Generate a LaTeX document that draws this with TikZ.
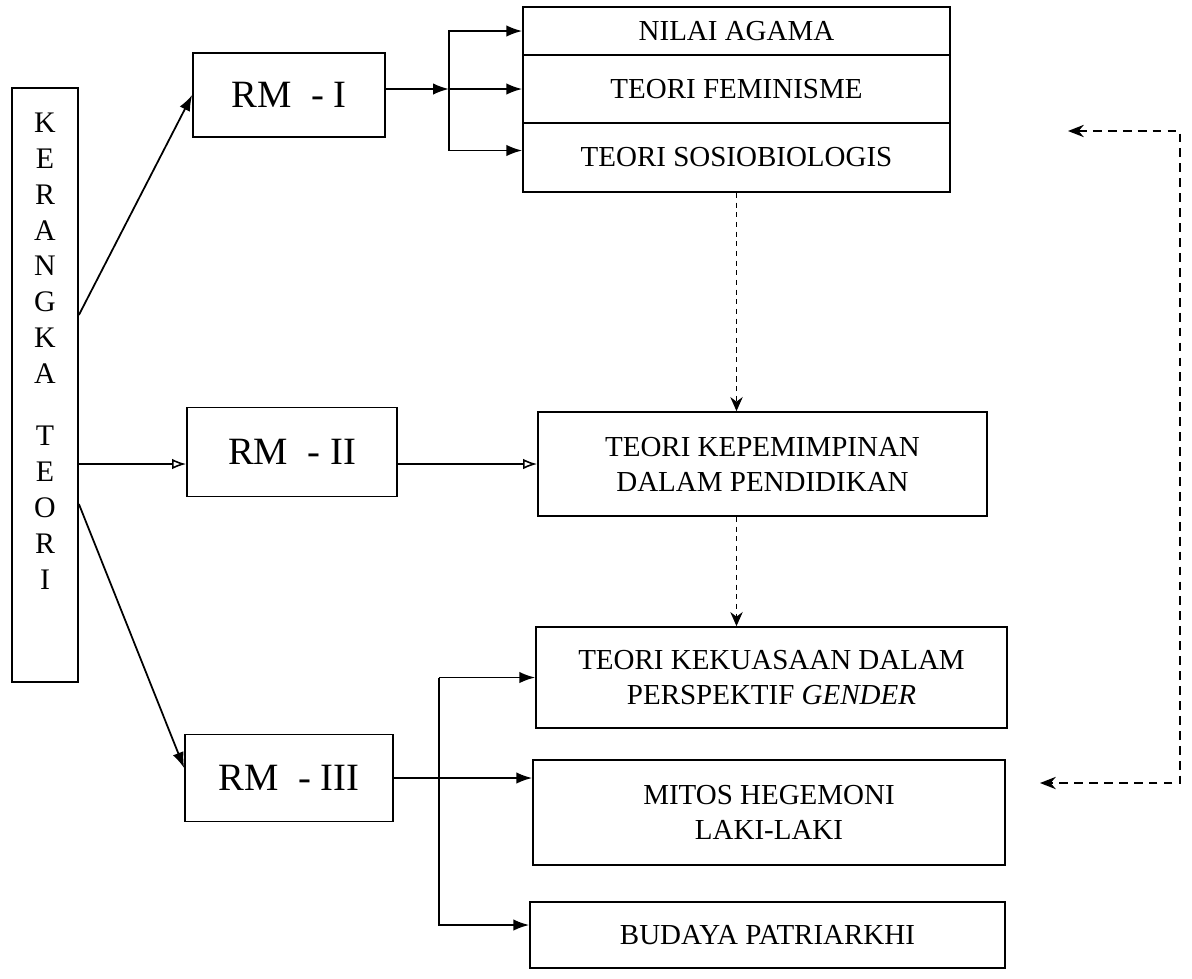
\documentclass[tikz,border=0pt]{standalone}
\usepackage{fontspec}
\setmainfont{Liberation Serif}
\usetikzlibrary{arrows.meta,calc,positioning}
\tikzset{
    kbox/.style={
        rectangle,
        draw,
        line width=1pt,
        inner sep=2pt,
        align=center,
        font=\fontsize{16.5}{20}\selectfont
    },
    rmbox/.style={
        kbox,
        font=\fontsize{22}{24}\selectfont
    },
    cellbox/.style={
        kbox,
        minimum width=8.54cm
    },
    flow/.style={
        -{Latex[length=9pt,width=6.5pt]},
        line width=1pt
    },
    flowopen/.style={
        -{Latex[open,length=8pt,width=6pt]},
        line width=0.9pt
    },
    dotflow/.style={
        -{Stealth[length=8pt,width=7pt]},
        line width=1pt,
        dash pattern=on 3pt off 2.5pt
    },
    backflow/.style={
        {Stealth[length=9pt,width=7pt]}-{Stealth[length=9pt,width=7pt]},
        line width=1pt,
        dash pattern=on 5pt off 3.5pt
    }
}

\begin{document}
\begin{tikzpicture}[x=0.02cm,y=-0.02cm]
    \useasboundingbox (0,0) rectangle (1192,978);

    % Kerangka teori
    \node[kbox, minimum width=1.32cm, minimum height=11.88cm] (kt) at (45,385) {};
    \node[align=center, font=\fontsize{17}{20.4}\selectfont] (ktlab) at (45,351)
        {K\\E\\R\\A\\N\\G\\K\\A\\[15pt]T\\E\\O\\R\\I};

    % Rumusan masalah
    \node[rmbox, minimum width=3.84cm, minimum height=1.68cm] (rm1) at (289,95) {RM~~-~I};
    \node[rmbox, minimum width=4.2cm, minimum height=1.78cm] (rm2) at (292,452) {RM~~-~II};
    \node[rmbox, minimum width=4.16cm, minimum height=1.74cm] (rm3) at (289,778) {RM~~-~III};

    % Teori untuk RM - I
    \node[cellbox, minimum height=0.96cm] (nilai) at (736.5,31) {NILAI AGAMA};
    \node[cellbox, minimum height=1.36cm] (fem) at (736.5,89) {TEORI FEMINISME};
    \node[cellbox, minimum height=1.38cm] (sosio) at (736.5,157.5) {TEORI SOSIOBIOLOGIS};

    % Teori untuk RM - II dan RM - III
    \node[kbox, minimum width=8.98cm, minimum height=2.08cm] (kep) at (762.5,464)
        {TEORI KEPEMIMPINAN\\DALAM PENDIDIKAN};
    \node[kbox, minimum width=9.42cm, minimum height=2.02cm] (kek) at (771.5,677.5)
        {TEORI KEKUASAAN DALAM\\PERSPEKTIF \textit{GENDER}};
    \node[kbox, minimum width=9.44cm, minimum height=2.1cm] (mitos) at (769,812.5)
        {MITOS HEGEMONI\\LAKI-LAKI};
    \node[kbox, minimum width=9.5cm, minimum height=1.32cm] (bud) at (767.5,935)
        {BUDAYA PATRIARKHI};

    % Kerangka teori ke RM
    \draw[flow] ($(kt.east)+(0,-70)$) -- (rm1.west);
    \draw[flowopen] (kt.east |- kep.west) -- (rm2.west |- kep.west);
    \draw[flow] ($(kt.east)+(0,119)$) -- ($(rm3.west)+(0,-10)$);

    % Cabang RM - I
    \coordinate (j1) at ($(rm1.east)+(63,-6)$);
    \draw[flow] (rm1.east |- j1) -- (j1);
    \draw[flow] (j1) |- (nilai.west);
    \draw[flow] (j1) -- (j1 -| fem.west);
    \draw[flow] (j1) |- ($(sosio.west)+(0,-7)$);

    % RM - II
    \draw[flowopen] (rm2.east |- kep.west) -- (kep.west);

    % Cabang RM - III
    \coordinate (j3) at ($(rm3.east)+(45,0)$);
    \draw[flow] (rm3.east) -- (rm3.east -| mitos.west);
    \draw[flow] (j3 |- kek.west) -- (kek.west);
    \draw[flow] (j3 |- kek.west) |- ($(bud.west)+(0,-10)$);

    % Alur putus-putus
    \draw[dotflow] (sosio.south) -- (sosio.south |- kep.north);
    \draw[dotflow] (sosio.south |- kep.south) -- (sosio.south |- kek.north);

    % Umpan balik
    \coordinate (fbtop) at (1068,131);
    \coordinate (fbbot) at (1040,783);
    \draw[backflow] (fbtop) -- ++(112,0) |- (fbbot);
\end{tikzpicture}
\end{document}
